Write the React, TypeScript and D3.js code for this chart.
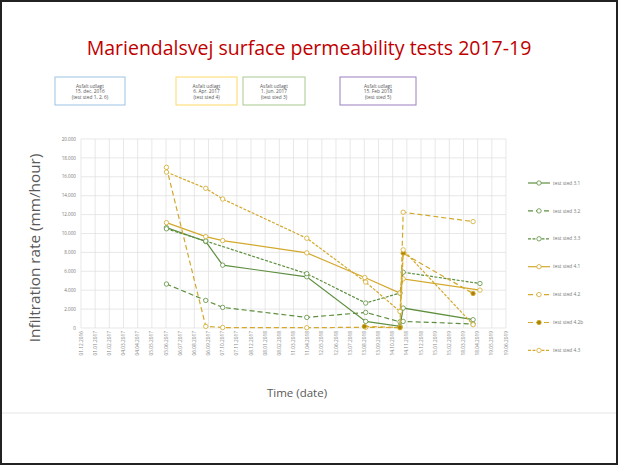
import React, { useEffect, useRef } from 'react';
import * as d3 from 'd3';

// tick labels on the date axis (Excel fixed 31 day steps)
const xTickLabels = [
  '01.12.2016', '01.01.2017', '01.02.2017', '04.03.2017', '04.04.2017', '05.05.2017',
  '05.06.2017', '06.07.2017', '06.08.2017', '06.09.2017', '07.10.2017', '07.11.2017',
  '08.12.2017', '08.01.2018', '08.02.2018', '11.03.2018', '11.04.2018', '12.05.2018',
  '12.06.2018', '13.07.2018', '13.08.2018', '13.09.2018', '14.10.2018', '14.11.2018',
  '15.12.2018', '15.01.2019', '15.02.2019', '18.03.2019', '18.04.2019', '19.05.2019',
  '19.06.2019'
];
const yTicks = [0, 2000, 4000, 6000, 8000, 10000, 12000, 14000, 16000, 18000, 20000];

const s31Dates = ['2017-06-06', '2017-08-31', '2017-10-07', '2018-04-09', '2018-08-16', '2018-10-30', '2018-11-06', '2019-04-08'];
const s31Values = [10620, 9150, 6650, 5420, 700, 170, 2110, 880];

const s32Dates = ['2017-06-06', '2017-08-31', '2017-10-07', '2018-04-09', '2018-08-16', '2018-10-30', '2018-11-06', '2019-04-08'];
const s32Values = [4650, 2920, 2180, 1120, 1650, 650, 700, 420];

const s33Dates = ['2017-06-06', '2017-08-31', '2018-04-09', '2018-08-16', '2018-10-30', '2018-11-06', '2019-04-23'];
const s33Values = [10500, 9200, 5750, 2640, 3700, 5900, 4710];

const s41Dates = ['2017-06-06', '2017-08-31', '2017-10-07', '2018-04-09', '2018-08-14', '2018-10-30', '2018-11-06', '2019-04-23'];
const s41Values = [11150, 9670, 9250, 7950, 5340, 3700, 5200, 4010];

const s42Dates = ['2017-06-06', '2017-08-31', '2017-10-07', '2018-04-09', '2018-08-16', '2018-10-30', '2018-11-06', '2019-04-08'];
const s42Values = [17000, 170, 50, 30, 80, 30, 12250, 11260];

const s42bDates = ['2018-08-13', '2018-10-30', '2018-11-06', '2019-04-08'];
const s42bValues = [170, 60, 7920, 3650];

const s43Dates = ['2017-06-06', '2017-08-31', '2017-10-07', '2018-04-09', '2018-08-16', '2018-10-30', '2018-11-06', '2019-04-08'];
const s43Values = [16500, 14780, 13650, 9500, 4860, 1750, 8270, 350];

const seriesNames = ['test sted 3.1', 'test sted 3.2', 'test sted 3.3', 'test sted 4.1', 'test sted 4.2', 'test sted 4.2b', 'test sted 4.3'];

const boxLines = [
  ['Asfalt udlagt', '15. dec. 2016', '(test sted 1, 2, 6)'],
  ['Asfalt udlagt', '6. Apr. 2017', '(test sted 4)'],
  ['Asfalt udlagt', '1. Jun. 2017', '(test sted 3)'],
  ['Asfalt udlagt', '15. Feb 2018', '(test sted 5)']
];

const GREEN = '#5e8f3f';
const GOLD = '#d3a92c';

const App: React.FC = () => {
  const svgRef = useRef<SVGSVGElement>(null);
  const width = 618;
  const height = 465;
  const margin = { top: 139, right: 112, bottom: 137, left: 81 };

  useEffect(() => {
    if (!svgRef.current) return;
    const svg = d3.select(svgRef.current);
    svg.selectAll('*').remove();

    const font = 'Open Sans, Noto Sans, sans-serif';
    const parse = d3.timeParse('%Y-%m-%d');
    const fmt = d3.timeFormat('%d.%m.%Y');

    const series = [
      { dates: s31Dates, values: s31Values, color: GREEN, dash: null, filled: false },
      { dates: s32Dates, values: s32Values, color: GREEN, dash: '5,3', filled: false },
      { dates: s33Dates, values: s33Values, color: GREEN, dash: '3,1.5', filled: false },
      { dates: s41Dates, values: s41Values, color: GOLD, dash: null, filled: false },
      { dates: s42Dates, values: s42Values, color: GOLD, dash: '5,3', filled: false },
      { dates: s42bDates, values: s42bValues, color: GOLD, dash: '5,3', filled: true },
      { dates: s43Dates, values: s43Values, color: GOLD, dash: '3,1.5', filled: false }
    ].map((s, i) => ({
      ...s,
      name: seriesNames[i],
      points: s.dates.map((d, j) => ({ date: parse(d) as Date, value: s.values[j] }))
    }));

    // slide frame
    svg.append('rect')
      .attr('x', 1).attr('y', 1)
      .attr('width', width - 2).attr('height', height - 2)
      .attr('fill', '#fff').attr('stroke', '#222').attr('stroke-width', 2);

    svg.append('text')
      .attr('x', 309).attr('y', 55)
      .attr('text-anchor', 'middle')
      .attr('font-family', font).attr('font-size', 19.5)
      .attr('fill', '#c00000')
      .text('Mariendalsvej surface permeability tests 2017-19');

    // annotation boxes
    const boxes = [
      { x: 55, w: 70, color: '#9dc3e6' },
      { x: 176, w: 61, color: '#ffd966' },
      { x: 243, w: 62, color: '#a9c98e' },
      { x: 340, w: 76, color: '#9b7fc0' }
    ];
    boxes.forEach((b, i) => {
      svg.append('rect')
        .attr('x', b.x).attr('y', 77).attr('width', b.w).attr('height', 28)
        .attr('fill', '#fff').attr('stroke', b.color).attr('stroke-width', 1);
      boxLines[i].forEach((line, k) => {
        svg.append('text')
          .attr('x', b.x + b.w / 2).attr('y', 87.5 + k * 5.5)
          .attr('text-anchor', 'middle')
          .attr('font-family', font).attr('font-size', 4.8)
          .attr('fill', '#555')
          .text(line);
      });
    });

    const innerW = width - margin.left - margin.right;
    const innerH = height - margin.top - margin.bottom;

    const tickDates = xTickLabels.map(t => d3.timeParse('%d.%m.%Y')(t) as Date);
    const xScale = d3.scaleTime()
      .domain([tickDates[0], tickDates[tickDates.length - 1]])
      .range([0, innerW]);
    const yScale = d3.scaleLinear().domain([0, 20000]).range([innerH, 0]);

    const g = svg.append('g').attr('transform', `translate(${margin.left},${margin.top})`);

    // grid
    g.append('g').selectAll('line.h').data(yTicks).join('line')
      .attr('x1', 0).attr('x2', innerW)
      .attr('y1', d => yScale(d)).attr('y2', d => yScale(d))
      .attr('stroke', '#dedede').attr('stroke-width', 0.7);
    g.append('g').selectAll('line.v').data(tickDates).join('line')
      .attr('x1', d => xScale(d)).attr('x2', d => xScale(d))
      .attr('y1', 0).attr('y2', innerH)
      .attr('stroke', '#dedede').attr('stroke-width', 0.7);

    // y labels
    const yFmt = (v: number) => v === 0 ? '0' : d3.format(',')(v).replace(/,/g, '.');
    g.append('g').selectAll('text').data(yTicks).join('text')
      .attr('x', -5).attr('y', d => yScale(d) + 1.6)
      .attr('text-anchor', 'end')
      .attr('font-family', font).attr('font-size', 4.6)
      .attr('fill', '#777')
      .text(d => yFmt(d));

    // x labels
    g.append('g').selectAll('text').data(tickDates).join('text')
      .attr('transform', d => `translate(${xScale(d) + 1.6},${innerH + 3}) rotate(-90)`)
      .attr('text-anchor', 'end')
      .attr('font-family', font).attr('font-size', 4.8)
      .attr('fill', '#888')
      .text(d => fmt(d));

    const line = d3.line<{ date: Date; value: number }>()
      .x(d => xScale(d.date))
      .y(d => yScale(d.value));

    series.forEach(s => {
      g.append('path')
        .datum(s.points)
        .attr('fill', 'none')
        .attr('stroke', s.color)
        .attr('stroke-width', 1.2)
        .attr('stroke-dasharray', s.dash)
        .attr('d', line);
      g.append('g').selectAll('circle').data(s.points).join('circle')
        .attr('cx', d => xScale(d.date))
        .attr('cy', d => yScale(d.value))
        .attr('r', 2.2)
        .attr('fill', s.filled ? '#a88400' : '#fff')
        .attr('stroke', s.color)
        .attr('stroke-width', 0.8);
    });

    // legend
    const legend = svg.append('g').attr('transform', 'translate(528,183)');
    series.forEach((s, i) => {
      const lg = legend.append('g').attr('transform', `translate(0,${i * 27.9})`);
      lg.append('line')
        .attr('x1', 0).attr('x2', 22).attr('y1', 0).attr('y2', 0)
        .attr('stroke', s.color).attr('stroke-width', 1.2)
        .attr('stroke-dasharray', s.dash);
      lg.append('circle')
        .attr('cx', 11).attr('cy', 0).attr('r', 2.2)
        .attr('fill', s.filled ? '#a88400' : '#fff')
        .attr('stroke', s.color).attr('stroke-width', 0.8);
      lg.append('text')
        .attr('x', 25).attr('y', 1.6)
        .attr('font-family', font).attr('font-size', 4.8)
        .attr('fill', '#777')
        .text(s.name);
    });

    // axis titles
    svg.append('text')
      .attr('transform', 'translate(40,248) rotate(-90)')
      .attr('text-anchor', 'middle')
      .attr('font-family', font).attr('font-size', 15.3)
      .attr('fill', '#595959')
      .text('Infiltration rate (mm/hour)');
    svg.append('text')
      .attr('x', 297).attr('y', 397)
      .attr('text-anchor', 'middle')
      .attr('font-family', font).attr('font-size', 11.5)
      .attr('fill', '#595959')
      .text('Time (date)');

    // separator line
    svg.append('line')
      .attr('x1', 2).attr('x2', width - 2).attr('y1', 413).attr('y2', 413)
      .attr('stroke', '#e6e6e6').attr('stroke-width', 1);
  }, []);

  return (
    <svg
      ref={svgRef}
      width={width}
      height={height}
      style={{ position: 'absolute', left: 0, top: 0 }}
    />
  );
};

export default App;
